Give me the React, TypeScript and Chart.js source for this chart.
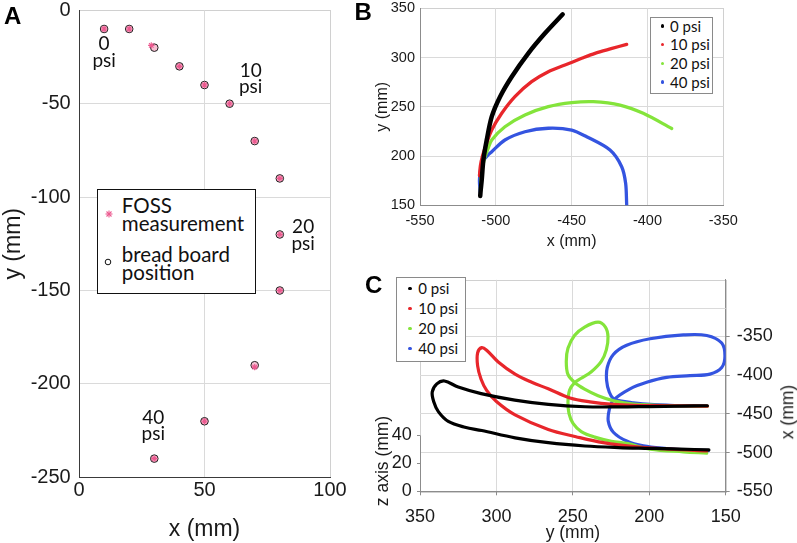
import React, { useEffect, useRef } from 'react';
import { Chart, registerables } from 'chart.js';

Chart.register(...registerables);

// ---------------- Panel A data ----------------
const aXTicks = [0, 50, 100];
const aYTicks = [0, -50, -100, -150, -200, -250];
const boardX = [10, 20, 30, 40, 50, 60, 70, 80, 80, 80, 70, 50, 30];
const boardY = [-10, -10, -20, -30, -40, -50, -70, -90, -120, -150, -190, -220, -240];
const fossX = [10, 20, 28.8, 40, 50, 60, 70, 80, 80, 80, 70, 50, 30];
const fossY = [-10, -10, -18.8, -30, -40, -50, -70, -90, -120, -150, -191, -220, -240];
const psiLabels = ['0', '10', '20', '40'];
const psiLabelX = [10, 68.4, 89.3, 29.6];
const psiLabelY = [-18, -32.4, -116, -218];

// ---------------- Panel B data ----------------
const seriesNames = ['0 psi', '10 psi', '20 psi', '40 psi'];
const bXTicks = [-550, -500, -450, -400, -350];
const bYTicks = [150, 200, 250, 300, 350];
const bX0 = [-510.3, -510, -509.3, -508.2, -506, -502.7, -497.2, -489.5, -478.6, -467.6, -455.9];
const bY0 = [159.5, 165, 175.7, 196, 216.3, 240, 260.3, 280.6, 304.3, 324.6, 343.9];
const bX1 = [-510.8, -510.2, -508.8, -506.3, -502.7, -496.1, -487.4, -476.4, -465.4, -454.4, -443.4, -434.6, -424, -413.7];
const bY1 = [180, 190, 200, 212, 226.4, 243.4, 260.3, 275.5, 285.6, 292.4, 299.2, 304.3, 309, 313.4];
const bX2 = [-510.2, -509.6, -507.8, -505.3, -502.7, -494, -480.8, -465.4, -450, -435.7, -418.1, -402.8, -384];
const bY2 = [166, 180, 196, 207, 216.3, 229.8, 241.7, 250.1, 254.2, 255.2, 251.8, 243.4, 228];
const bX3 = [-510.3, -510.8, -510, -508.4, -505.5, -502.7, -494, -480.8, -465.4, -450, -440.1, -424.7, -417, -414.4, -413.7];
const bY3 = [163, 175, 187, 195, 200.5, 204.4, 216.3, 224.7, 228.2, 226.4, 219.6, 206.1, 189.2, 172.3, 150.3];

// ---------------- Panel C data ----------------
const cYTicks = [350, 300, 250, 200, 150];
const cXTicks = [-550, -500, -450, -400, -350];
const cZTicks = [0, 20, 40];
const cExtraGrid = -313.3;
const cY0 = [162, 180, 200, 220, 242, 266, 288, 310, 325, 334, 339, 342, 341, 338, 331.5, 320.6, 309.6, 287.8, 266.1, 242.1, 220, 200, 180, 161];
const cX0 = [-439.5, -440, -440.5, -441, -440.8, -437.8, -432.3, -423.9, -415.4, -407.5, -411.3, -421.8, -434.4, -447.1, -459.7, -467.3, -471.5, -480.9, -487.2, -491.5, -493.5, -494.5, -495.5, -496.5];
const cY1 = [162, 185, 210, 223.5, 238.8, 251.9, 266.1, 276.9, 287.8, 298.8, 306.4, 309.6, 312.3, 312.3, 310.1, 306.4, 299.8, 287.8, 266.1, 248, 230.1, 208.2, 186.4, 162.4];
const cX1 = [-440, -439.5, -439, -437.8, -434.4, -429.4, -417.6, -409.1, -398.6, -382.9, -367.7, -364.4, -371.1, -388, -404.9, -419.6, -434.4, -451.3, -470.3, -479.5, -487.2, -492.7, -495.6, -497.7];
const cY2 = [162, 185, 210.4, 222.6, 233.5, 242.3, 248.8, 253.2, 254.3, 253.2, 248.8, 242.3, 233.5, 228.7, 227, 228.1, 231.4, 237.9, 244.5, 248.8, 252.1, 253.2, 252.5, 249.9, 244.5, 235.7, 224.8, 213.9, 199.5, 177.7, 162.4];
const cX2 = [-440, -439.5, -437.3, -433.5, -426.5, -418, -409.5, -399, -382.2, -365.2, -348.4, -337.8, -331.5, -337.8, -350.5, -367.3, -382.2, -395.6, -404, -409.5, -419.2, -434.8, -449.6, -462.3, -472.8, -480, -485.4, -488.5, -495.6, -499, -500.6];
const cY3 = [162.7, 175.5, 188.6, 199.5, 210.4, 219.2, 223.5, 226.2, 227.9, 227.5, 223.5, 214.8, 199.5, 177.7, 162.4, 152.6, 150.5, 152.6, 160.3, 173.4, 188.6, 201.7, 212.6, 223.5, 226.2, 226.8, 223.5, 214.8, 203.9, 188.6, 175.5, 161.4];
const cX3 = [-439.6, -439.9, -438.6, -437.8, -435.7, -433.2, -430.3, -421.8, -407, -390.1, -373.3, -361.4, -353, -348, -348.7, -358.5, -375.3, -390.1, -398.6, -400.6, -402.8, -409.1, -417.6, -432.3, -444.9, -459.7, -473.7, -485.1, -491.4, -494.8, -496.5, -497.4];

// ---------------- styles ----------------
const TICK_FONT = '"Liberation Sans", Arial, Helvetica, sans-serif';
const LABEL_FONT = 'Lato, "Open Sans", sans-serif';
const GRID = '#dadada';
const FRAME = '#d0d0d0';
const AXIS_A = '#3a3a3a';
const AXIS_BC = '#8c8c8c';
const TEXT = '#1a1a1a';
const seriesColors = ['#000000', '#e8262b', '#84e43b', '#3454e0'];
const FOSS_COLOR = '#ec5a90';

const pts = (xs: number[], ys: number[]) => xs.map((x, i) => ({ x, y: ys[i] }));
const setTicks = (vals: number[]) => (s: any) => {
  s.ticks = [...vals].sort((a, b) => a - b).map((v) => ({ value: v }));
};
const gridColor = (lo: number, hi: number) => (c: any) =>
  c.tick && (c.tick.value === lo || c.tick.value === hi) ? 'rgba(0,0,0,0)' : GRID;

const framePlugin = {
  id: 'frame',
  beforeDraw(chart: any) {
    const { ctx, chartArea: a } = chart;
    ctx.save();
    ctx.strokeStyle = FRAME;
    ctx.lineWidth = 1;
    ctx.strokeRect(Math.round(a.left) + 0.5, Math.round(a.top) + 0.5, Math.round(a.right - a.left), Math.round(a.bottom - a.top));
    ctx.restore();
  },
};

const psiAnnot = {
  id: 'psiAnnot',
  afterDatasetsDraw(chart: any) {
    const { ctx, scales } = chart;
    ctx.save();
    ctx.fillStyle = '#111';
    ctx.font = '19px ' + LABEL_FONT;
    ctx.textAlign = 'center';
    ctx.textBaseline = 'middle';
    psiLabels.forEach((t, i) => {
      const px = scales.x.getPixelForValue(psiLabelX[i]);
      const py = scales.y.getPixelForValue(psiLabelY[i]);
      ctx.fillText(t, px, py);
      ctx.fillText('psi', px, py + 16.5);
    });
    ctx.restore();
  },
};

const cExtras = {
  id: 'cExtras',
  beforeDatasetsDraw(chart: any) {
    const { ctx, chartArea, scales } = chart;
    ctx.save();
    ctx.lineWidth = 1;
    const gy = Math.round(scales.xr.getPixelForValue(cExtraGrid)) + 0.5;
    ctx.strokeStyle = GRID;
    ctx.beginPath();
    ctx.moveTo(chartArea.left, gy);
    ctx.lineTo(chartArea.right, gy);
    ctx.stroke();
    const z0 = scales.z.getPixelForValue(cZTicks[0]);
    const z1 = scales.z.getPixelForValue(cZTicks[cZTicks.length - 1]);
    ctx.strokeStyle = AXIS_BC;
    const lx = Math.round(chartArea.left) + 0.5;
    ctx.beginPath();
    ctx.moveTo(lx, z0);
    ctx.lineTo(lx, z1);
    ctx.stroke();
    ctx.restore();
  },
};

const baseOptions = (padding: any) => ({
  responsive: false,
  animation: false,
  devicePixelRatio: 1,
  events: [],
  layout: { padding },
  plugins: { legend: { display: false }, tooltip: { enabled: false } },
});

const configA = () => ({
  type: 'scatter',
  data: {
    datasets: [
      {
        label: 'FOSS measurement',
        data: pts(fossX, fossY),
        pointStyle: 'star',
        pointRadius: 3.2,
        borderColor: FOSS_COLOR,
        backgroundColor: FOSS_COLOR,
        borderWidth: 1.1,
      },
      {
        label: 'bread board position',
        data: pts(boardX, boardY),
        pointStyle: 'circle',
        pointRadius: 3.8,
        borderColor: '#1f1f1f',
        backgroundColor: '#f6bfd2',
        borderWidth: 1,
      },
    ],
  },
  options: {
    ...baseOptions({ left: 0, top: 19.3, right: 50, bottom: 5.7 }),
    scales: {
      x: {
        type: 'linear',
        min: 0,
        max: 100,
        afterBuildTicks: setTicks(aXTicks),
        afterFit: (s: any) => { s.height = 70; },
        grid: { color: gridColor(0, 100), drawTicks: false },
        border: { color: AXIS_A, width: 1 },
        ticks: { padding: 1.5, color: TEXT, autoSkip: false, font: { family: TICK_FONT, size: 20 } },
        title: { display: true, text: 'x (mm)', color: TEXT, font: { family: TICK_FONT, size: 23 }, padding: { top: 0, bottom: 3.5 } },
      },
      y: {
        type: 'linear',
        min: -250,
        max: 0,
        afterBuildTicks: setTicks(aYTicks),
        afterFit: (s: any) => { s.width = 79; },
        grid: { color: gridColor(-250, 0), drawTicks: false },
        border: { color: AXIS_A, width: 1 },
        ticks: { padding: 8.3, color: TEXT, autoSkip: false, font: { family: TICK_FONT, size: 20 } },
        title: { display: true, text: 'y (mm)', color: TEXT, font: { family: TICK_FONT, size: 23 }, padding: { top: 0, bottom: 0 } },
      },
    },
  },
  plugins: [framePlugin, psiAnnot],
});

const bX = [bX0, bX1, bX2, bX3];
const bY = [bY0, bY1, bY2, bY3];
const cY = [cY0, cY1, cY2, cY3];
const cX = [cX0, cX1, cX2, cX3];

const configB = () => ({
  type: 'scatter',
  data: {
    datasets: seriesNames.map((name, i) => ({
      label: name,
      data: pts(bX[i], bY[i]),
      showLine: true,
      borderColor: seriesColors[i],
      backgroundColor: seriesColors[i],
      borderWidth: i === 0 ? 4.5 : 3.3,
      pointRadius: 0,
      tension: 0.3,
      borderCapStyle: 'round',
      borderJoinStyle: 'round',
    })),
  },
  options: {
    ...baseOptions({ left: 0, top: 18.3, right: 73.7, bottom: 4.7 }),
    scales: {
      x: {
        type: 'linear',
        min: -550,
        max: -350,
        afterBuildTicks: setTicks(bXTicks),
        afterFit: (s: any) => { s.height = 50; },
        grid: { color: gridColor(-550, -350), drawTicks: false },
        border: { color: AXIS_BC, width: 1 },
        ticks: { padding: 6.5, color: TEXT, autoSkip: false, font: { family: TICK_FONT, size: 14.5 } },
        title: { display: true, text: 'x (mm)', color: TEXT, font: { family: TICK_FONT, size: 16 }, padding: { top: 0, bottom: 3.7 } },
      },
      y: {
        type: 'linear',
        min: 150,
        max: 350,
        afterBuildTicks: setTicks(bYTicks),
        afterFit: (s: any) => { s.width = 80; },
        grid: { color: gridColor(150, 350), drawTicks: false },
        border: { color: AXIS_BC, width: 1 },
        ticks: { padding: 5, color: TEXT, autoSkip: false, font: { family: TICK_FONT, size: 14.5 } },
        title: { display: true, text: 'y (mm)', color: TEXT, font: { family: TICK_FONT, size: 16 }, padding: { top: 33.1, bottom: 0 } },
      },
    },
  },
  plugins: [framePlugin],
});

const configC = () => ({
  type: 'scatter',
  data: {
    datasets: seriesNames.map((name, i) => ({
      label: name,
      data: pts(cY[i], cX[i]),
      xAxisID: 'x',
      yAxisID: 'xr',
      showLine: true,
      borderColor: seriesColors[i],
      backgroundColor: seriesColors[i],
      borderWidth: 3.2,
      pointRadius: 0,
      tension: 0.35,
      borderCapStyle: 'round',
      borderJoinStyle: 'round',
    })),
  },
  options: {
    ...baseOptions({ left: 0, top: 13.5, right: 0, bottom: 0 }),
    scales: {
      x: {
        type: 'linear',
        position: 'bottom',
        reverse: true,
        min: 150,
        max: 350,
        afterBuildTicks: setTicks(cYTicks),
        afterFit: (s: any) => { s.height = 60.7; },
        grid: { color: gridColor(150, 350), drawTicks: true, tickLength: 4, tickColor: AXIS_BC },
        border: { color: AXIS_BC, width: 1 },
        ticks: { padding: 10.6, color: TEXT, autoSkip: false, font: { family: TICK_FONT, size: 18 } },
        title: { display: true, text: 'y (mm)', color: TEXT, font: { family: TICK_FONT, size: 17.5 }, padding: { top: 0, bottom: 8.2 } },
      },
      xr: {
        type: 'linear',
        position: 'right',
        min: -550,
        max: -276.8,
        afterBuildTicks: setTicks(cXTicks),
        afterFit: (s: any) => { s.width = 71.3; },
        grid: { color: gridColor(-550, -276.8), drawTicks: true, tickLength: 4, tickColor: AXIS_BC },
        border: { color: AXIS_BC, width: 1 },
        ticks: { padding: 7, color: TEXT, autoSkip: false, font: { family: TICK_FONT, size: 18 } },
      },
      z: {
        type: 'linear',
        position: 'left',
        min: 0,
        max: 151.4,
        afterBuildTicks: setTicks(cZTicks),
        afterFit: (s: any) => { s.width = 80; },
        grid: { display: true, drawOnChartArea: false, drawTicks: true, tickLength: 3, color: AXIS_BC, tickColor: AXIS_BC },
        border: { display: false },
        ticks: { padding: 5.3, color: TEXT, autoSkip: false, font: { family: TICK_FONT, size: 18 } },
      },
    },
  },
  plugins: [framePlugin, cExtras],
});

function ChartCanvas({ left, top, width, height, make }: any) {
  const ref = useRef<HTMLCanvasElement>(null);
  useEffect(() => {
    const chart = new Chart(ref.current as HTMLCanvasElement, make());
    return () => chart.destroy();
  }, []);
  return (
    <canvas ref={ref} width={width} height={height} style={{ position: 'absolute', left, top, width, height }} />
  );
}

function Rot({ cx, cy, text, size }: any) {
  return (
    <div
      style={{
        position: 'absolute',
        left: cx,
        top: cy,
        transform: 'translate(-50%,-50%) rotate(-90deg)',
        font: `${size}px ${TICK_FONT}`,
        lineHeight: 1,
        whiteSpace: 'nowrap',
        color: TEXT,
      }}
    >
      {text}
    </div>
  );
}

function Letter({ x, y, t }: any) {
  return (
    <div style={{ position: 'absolute', left: x, top: y, font: `bold 24px ${TICK_FONT}`, lineHeight: '24px', color: '#000' }}>{t}</div>
  );
}

function SeriesLegend({ left, top, width, height, firstCenter, step, dotX, textX }: any) {
  return (
    <div
      style={{
        position: 'absolute',
        left,
        top,
        width,
        height,
        boxSizing: 'border-box',
        border: '1px solid #8a8a8a',
        background: '#fff',
      }}
    >
      {seriesNames.map((n, i) => {
        const cy = firstCenter + i * step;
        return (
          <React.Fragment key={n}>
            <span
              style={{
                position: 'absolute',
                left: dotX - 1.6,
                top: cy - 1.6,
                width: 3.2,
                height: 3.2,
                borderRadius: '50%',
                background: seriesColors[i],
              }}
            />
            <div
              style={{
                position: 'absolute',
                left: textX,
                top: cy - 9.4,
                font: `15px ${LABEL_FONT}`,
                lineHeight: '18px',
                whiteSpace: 'nowrap',
                color: '#111',
              }}
            >
              {n}
            </div>
          </React.Fragment>
        );
      })}
    </div>
  );
}

function LegendA() {
  const txt = { position: 'absolute' as const, left: 24.1, font: `20.5px ${LABEL_FONT}`, lineHeight: '17.7px', whiteSpace: 'nowrap' as const, color: '#111' };
  return (
    <div
      style={{
        position: 'absolute',
        left: 96.7,
        top: 189.3,
        width: 159.3,
        height: 105,
        boxSizing: 'border-box',
        border: '1.5px solid #111',
        background: '#fff',
      }}
    >
      <svg style={{ position: 'absolute', left: 11.8 - 5, top: 23.5 - 5 }} width={10} height={10}>
        <g stroke={FOSS_COLOR} strokeWidth={1.1}>
          <line x1={1.5} y1={5} x2={8.5} y2={5} />
          <line x1={5} y1={1.5} x2={5} y2={8.5} />
          <line x1={2.5} y1={2.5} x2={7.5} y2={7.5} />
          <line x1={2.5} y1={7.5} x2={7.5} y2={2.5} />
        </g>
      </svg>
      <svg style={{ position: 'absolute', left: 10.1 - 5, top: 71.9 - 5 }} width={10} height={10}>
        <circle cx={5} cy={5} r={2.8} fill="none" stroke="#111" strokeWidth={1} />
      </svg>
      <div style={{ ...txt, top: 6.8 }}>
        FOSS
        <br />
        measurement
      </div>
      <div style={{ ...txt, top: 55.8 }}>
        bread board
        <br />
        position
      </div>
    </div>
  );
}

export default function App() {
  return (
    <div style={{ position: 'fixed', left: 0, top: 0, width: 797, height: 543, overflow: 'hidden', background: '#fff' }}>
      <ChartCanvas left={0} top={-10} width={380} height={563} make={configA} />
      <ChartCanvas left={340} top={-10} width={457} height={270} make={configB} />
      <ChartCanvas left={340} top={262} width={457} height={290} make={configC} />
      <LegendA />
      <SeriesLegend left={650} top={16.7} width={62.7} height={77.3} firstCenter={8.3} step={18.67} dotX={11.7} textX={19} />
      <SeriesLegend left={396} top={277.3} width={70} height={84.4} firstCenter={10.2} step={20} dotX={13} textX={21.3} />
      <Rot cx={382.5} cy={460.5} text="z axis (mm)" size={17.5} />
      <Rot cx={788.3} cy={411.7} text="x (mm)" size={17.5} />
      <Letter x={4} y={4.2} t="A" />
      <Letter x={354.5} y={0.2} t="B" />
      <Letter x={365} y={272.6} t="C" />
    </div>
  );
}
